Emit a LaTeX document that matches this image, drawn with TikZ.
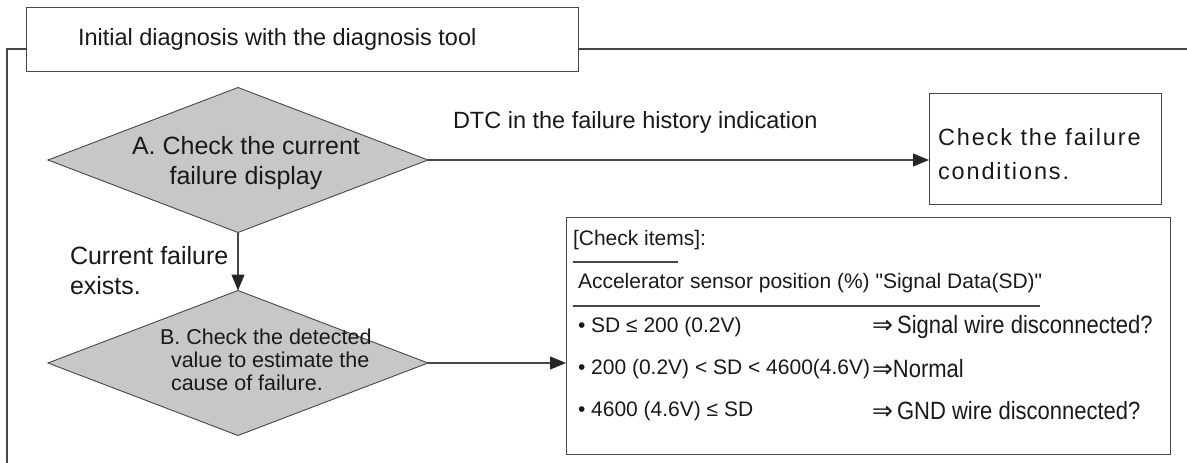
\documentclass[tikz,border=0pt]{standalone}
\usepackage{graphicx}
\usepackage{fontspec}
\setmainfont{Liberation Sans}
\newfontfamily\plainf{Liberation Sans}
\newfontfamily\symf{DejaVu Sans}
\usetikzlibrary{shapes.geometric,arrows.meta}
\definecolor{ln}{gray}{0.28}
\definecolor{dfill}{gray}{0.78}
\begin{document}
\begin{tikzpicture}[x=1pt,y=-1pt,
  every node/.style={inner sep=0pt, outer sep=0pt},
  box/.style={draw=ln, line width=1pt},
  frame/.style={draw=ln, line width=1.3pt},
  dia/.style={diamond, draw=ln, fill=dfill, line width=0.9pt, minimum width=380pt, minimum height=145pt},
  arr/.style={draw=ln, line width=1.2pt, -{Triangle[length=16pt,width=13pt,fill=black!85,color=black!85]}},
  txt/.style={font=\plainf\fontsize{23.5}{28}\selectfont, text=black!90},
  bigtxt/.style={font=\plainf\fontsize{25}{30}\selectfont, text=black!90},
  ctxt/.style={font=\plainf\fontsize{21}{25}\selectfont, text=black!90},
  ntxt/.style={font=\plainf\fontsize{25}{28}\selectfont, text=black!90},
  ul/.style={draw=ln, line width=1.3pt}]
\useasboundingbox (0,0) rectangle (1187,463);

% title and outer frame
\node[box, anchor=north west, minimum width=552pt, minimum height=64pt] (title) at (26,7) {};
\node[txt, anchor=west] (titletext) at (78,39) {Initial diagnosis with the diagnosis tool};
\draw[frame] (7,463) -- (7,49) -- (title.west |- 0,49);
\draw[frame] (title.east |- 0,49) -- (1187,49);

% diamonds
\node[dia] (A) at (238,160) {};
\node[bigtxt, align=center] (Atext) at (246,163) {A. Check the current\\failure display};
\node[dia] (B) at (238,363) {};
\node[ctxt, anchor=west, align=left, font=\plainf\fontsize{21.5}{23}\selectfont] (Btext) at (160,360) {B. Check the detected\\\hspace*{11pt}value to estimate the\\\hspace*{11pt}cause of failure.};

% failure box
\node[box, anchor=north west, minimum width=232pt, minimum height=111pt] (fail) at (929,93) {};
\node[txt, anchor=west, align=left, font=\plainf\fontsize{23.5}{34}\selectfont\addfontfeatures{LetterSpace=8}] (failtext) at (938,154) {Check the failure\\conditions.};

% check box
\node[box, anchor=north west, minimum width=604pt, minimum height=237pt] (chk) at (566,217) {};
\node[ctxt, anchor=west] (items) at (573,240) {[Check items]:};
\draw[ul] (573,262) -- (678,262);
\node[ctxt, anchor=west] (acc) at (578,283) {Accelerator sensor position (\%) "Signal Data(SD)"};
\draw[ul] (573,306) -- (1040,306);
\node[ctxt, anchor=west] (c1) at (578,327) {• SD ≤ 200 (0.2V)};
\node[ctxt, anchor=west] (c2) at (578,369) {• 200 (0.2V) < SD < 4600(4.6V)};
\node[ctxt, anchor=west] (c3) at (578,411) {• 4600 (4.6V) ≤ SD};
\node[ntxt, anchor=west] (r1) at (872,327) {{\symf ⇒}\,\scalebox{0.88}[1]{Signal wire disconnected?}};
\node[ntxt, anchor=west] (r2) at (872,369) {{\symf ⇒}\scalebox{0.88}[1]{Normal}};
\node[ntxt, anchor=west] (r3) at (872,411) {{\symf ⇒}\,\scalebox{0.88}[1]{GND wire disconnected?}};

% connectors
\draw[arr] (A.east) -- (A.east -| fail.west);
\node[txt, anchor=west] (dtc) at (453,122) {DTC in the failure history indication};
\draw[arr] (A.south) -- (B.north);
\node[bigtxt, anchor=west, align=left] (cur) at (70,271) {Current failure\\exists.};
\draw[arr] (B.east) -- (B.east -| chk.west);
\end{tikzpicture}
\end{document}
